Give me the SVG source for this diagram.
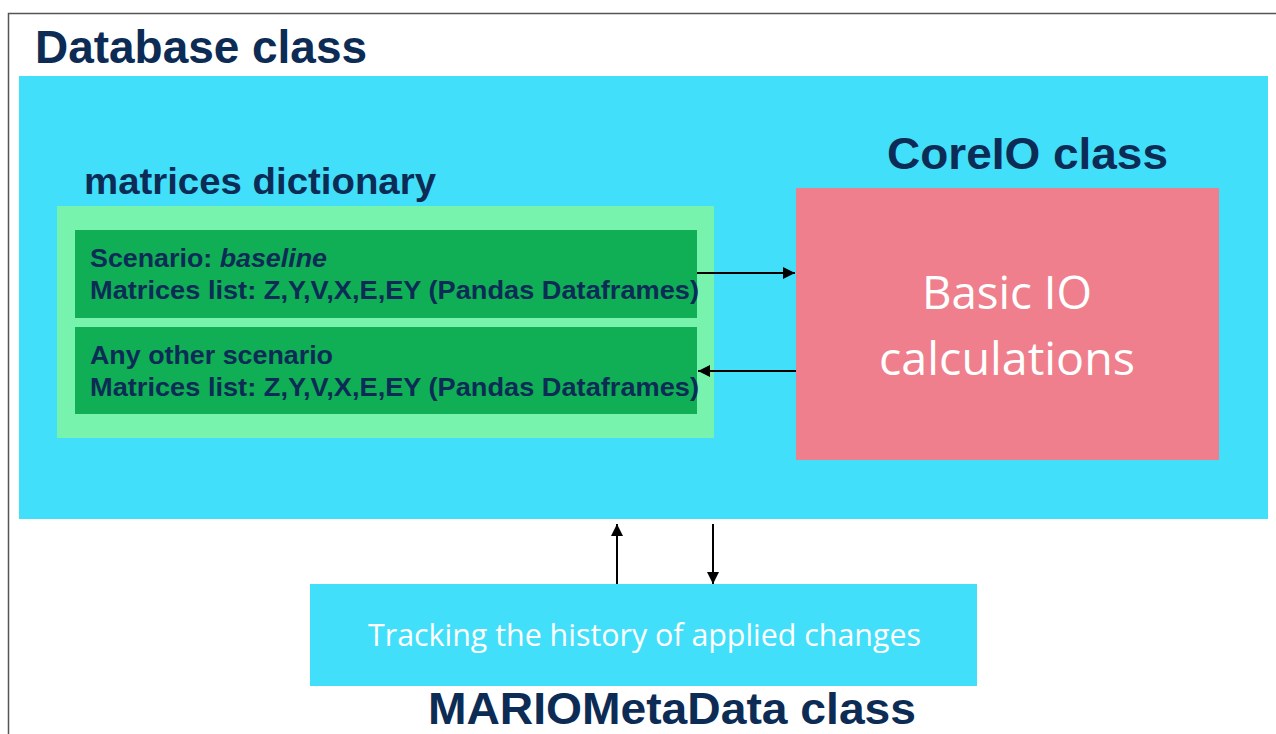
<svg xmlns="http://www.w3.org/2000/svg" width="1276" height="734" viewBox="0 0 1276 734">
  <defs>
    <marker id="ah" viewBox="0 0 10 10" refX="10" refY="5" markerWidth="6" markerHeight="6" markerUnits="strokeWidth" orient="auto">
      <path d="M0,0 L10,5 L0,10 z" fill="#000"/>
    </marker>
    <style>
      .title { font-family: "Liberation Sans", Arial, sans-serif; font-weight: bold; fill: #0c2c55; }
      .scen { font-family: "Liberation Sans Narrow", "Liberation Sans", Arial, sans-serif; font-weight: bold; font-size: 26px; fill: #0c2c55; }
      .light { font-family: "Open Sans", "Noto Sans", sans-serif; fill: #ffffff; }
      .conn { stroke: #000; stroke-width: 2; fill: none; marker-end: url(#ah); }
    </style>
  </defs>
  <rect x="0" y="0" width="1276" height="734" fill="#ffffff"/>
  <rect x="8.5" y="13.5" width="1300" height="800" fill="none" stroke="#555555" stroke-width="1.5"/>

  <g id="database">
    <text class="title" x="35" y="63" font-size="46" textLength="332" lengthAdjust="spacingAndGlyphs">Database class</text>
    <rect x="19" y="76" width="1249" height="443" fill="#42dffa"/>
  </g>

  <g id="matrices">
    <text class="title" x="84" y="194" font-size="37" textLength="352" lengthAdjust="spacingAndGlyphs">matrices dictionary</text>
    <rect x="57" y="206" width="657" height="232" fill="#78f3ad"/>
  </g>

  <g id="scenario-baseline">
    <rect x="75" y="230" width="622" height="88" fill="#10ae55"/>
    <text class="scen" x="90" y="267" textLength="237" lengthAdjust="spacingAndGlyphs">Scenario: <tspan font-style="italic">baseline</tspan></text>
    <text class="scen" x="90" y="299" textLength="609" lengthAdjust="spacingAndGlyphs">Matrices list: Z,Y,V,X,E,EY (Pandas Dataframes)</text>
  </g>

  <g id="scenario-other">
    <rect x="75" y="327" width="622" height="87" fill="#10ae55"/>
    <text class="scen" x="90" y="364" textLength="243" lengthAdjust="spacingAndGlyphs">Any other scenario</text>
    <text class="scen" x="90" y="396" textLength="609" lengthAdjust="spacingAndGlyphs">Matrices list: Z,Y,V,X,E,EY (Pandas Dataframes)</text>
  </g>

  <g id="coreio">
    <text class="title" x="887" y="169" font-size="45" textLength="281" lengthAdjust="spacingAndGlyphs">CoreIO class</text>
    <rect x="796" y="188" width="423" height="272" fill="#ef7f8c"/>
    <text class="light" x="1007" y="309" font-size="46" text-anchor="middle" textLength="170" lengthAdjust="spacingAndGlyphs">Basic IO</text>
    <text class="light" x="1007" y="375" font-size="46" text-anchor="middle" textLength="256" lengthAdjust="spacingAndGlyphs">calculations</text>
  </g>

  <g id="mariometadata">
    <rect x="310" y="584" width="667" height="102" fill="#42dffa"/>
    <text class="light" x="368" y="646" font-size="31" textLength="553" lengthAdjust="spacingAndGlyphs">Tracking the history of applied changes</text>
    <text class="title" x="428" y="724" font-size="45" textLength="488" lengthAdjust="spacingAndGlyphs">MARIOMetaData class</text>
  </g>

  <g id="connectors">
    <line class="conn" x1="697" y1="273" x2="795" y2="273"/>
    <line class="conn" x1="796" y1="371" x2="698" y2="371"/>
    <line class="conn" x1="617" y1="584" x2="617" y2="524"/>
    <line class="conn" x1="713" y1="524" x2="713" y2="584"/>
  </g>
</svg>
